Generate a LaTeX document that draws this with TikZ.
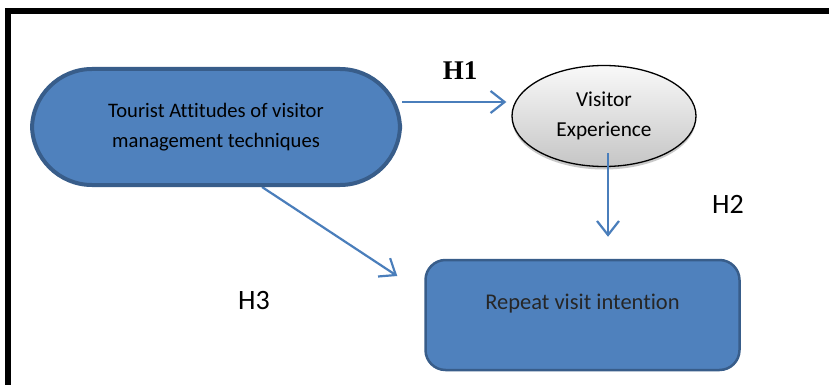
\documentclass[tikz,border=0pt]{standalone}
\usepackage{fontspec}
\setmainfont{Carlito}[Ligatures=NoCommon]
\newfontfamily\hfont{Liberation Serif}
\usetikzlibrary{shapes.geometric,arrows.meta,shadows,backgrounds}
\definecolor{boxblue}{HTML}{4F81BD}
\definecolor{boxedge}{HTML}{385D8A}
\definecolor{arrblue}{HTML}{4A7EBB}
\begin{document}
\begin{tikzpicture}[x=1pt,y=-1pt,
  pill/.style={draw=boxedge,line width=4pt,fill=boxblue,rounded corners=60pt,
    minimum width=368pt,minimum height=116pt,align=center,inner sep=0pt,
    font=\fontsize{20.6}{29.5}\selectfont},
  ellbox/.style={ellipse,draw=black,line width=1.3pt,top color=gray!5,bottom color=gray!45,
    minimum width=184pt,minimum height=101pt,inner sep=0pt,align=center,
    font=\fontsize{21.3}{30}\selectfont,
    drop shadow={shadow xshift=0pt,shadow yshift=-3pt,fill=gray!70,opacity=0.6}},
  repbox/.style={draw=boxedge,line width=2.5pt,fill=boxblue,rounded corners=20pt,
    minimum width=314pt,minimum height=110pt,inner sep=0pt,text height=15pt,text depth=26pt,
    text=black!85,font=\fontsize{22.5}{27}\selectfont},
  arr/.style={draw=arrblue,line width=2.2pt,-{Straight Barb[length=14pt,width=22pt,line width=2.2pt]}},
  hlab/.style={font=\fontsize{28}{32}\selectfont,inner sep=0pt}
]
\useasboundingbox (0,0) rectangle (829,385);
\draw[line width=6pt] (8,385) -- (8,11) -- (829,11);

\node[pill] (att) at (216,127) {Tourist Attitudes of visitor\\management techniques};
\node[ellbox] (exp) at (604,116) {Visitor\\Experience};
\node[repbox] (rep) at (582.5,315) {Repeat visit intention};

\node[inner sep=0pt,font=\hfont\bfseries\fontsize{27}{30}\selectfont] (h1) at (460,71) {H1};
\node[hlab] (h2) at (728,204) {H2};
\node[hlab] (h3) at (254,301) {H3};

\begin{scope}[on background layer]
\fill[white] (0,0) rectangle (829,385);
\draw[arr] ([yshift=25pt]att.east) -- ([xshift=-5pt,yshift=14pt]exp.west);
\draw[arr] ([xshift=46pt]att.south) -- ([xshift=-27pt,yshift=39pt]rep.west);
\end{scope}
\draw[arr] ([xshift=4pt,yshift=14pt]exp.south) -- ([xshift=25.5pt,yshift=22pt]rep.north);
\end{tikzpicture}
\end{document}
